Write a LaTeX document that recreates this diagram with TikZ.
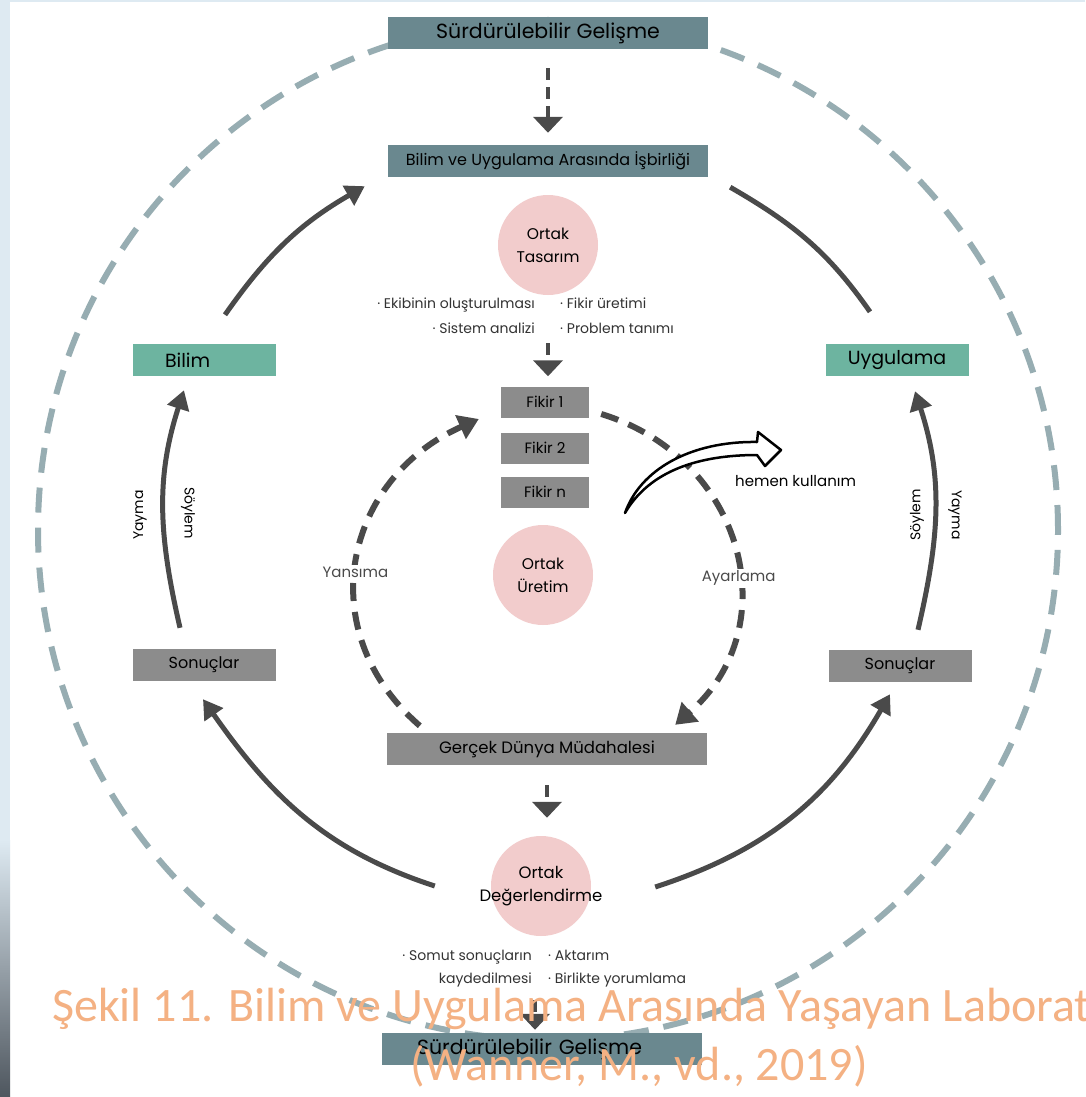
\documentclass[tikz,border=0pt]{standalone}
\usepackage{fontspec}
\setmainfont{Poppins}
\newfontfamily\capfont{Carlito}
\usetikzlibrary{arrows.meta,positioning,calc}

\definecolor{slate}{RGB}{106,136,143}
\definecolor{sage}{RGB}{109,180,160}
\definecolor{stone}{RGB}{140,140,140}
\definecolor{blush}{RGB}{242,204,204}
\definecolor{ink}{RGB}{74,74,74}
\definecolor{ring}{RGB}{151,173,178}
\definecolor{peach}{RGB}{244,177,131}
\definecolor{slidebg}{RGB}{222,234,242}

\tikzset{
  goalbox/.style={fill=slate, minimum width=320pt, minimum height=32pt, inner sep=0pt},
  fieldbox/.style={fill=sage, minimum width=143pt, minimum height=32pt, inner sep=0pt, font=\fontsize{19}{22}\selectfont},
  resultbox/.style={fill=stone, minimum width=143pt, minimum height=32pt, inner sep=0pt, font=\fontsize{16}{19}\selectfont},
  ideabox/.style={fill=stone, minimum width=88pt, minimum height=31pt, inner sep=0pt, font=\fontsize{15}{18}\selectfont},
  phasedot/.style={circle, fill=blush, minimum size=100pt, inner sep=0pt, align=center, font=\fontsize{15.5}{23}\selectfont},
  bulletnote/.style={inner sep=0pt, text=black!80, font=\fontsize{14}{17}\selectfont},
  looplabel/.style={inner sep=2pt, fill=white, font=\fontsize{15}{18}\selectfont},
  sidelabel/.style={inner sep=0pt, font=\fontsize{14}{17}\selectfont},
  flowdash/.style={ink, line width=4pt, dash pattern=on 12pt off 7pt, -{Triangle[length=16pt,width=29pt]}},
  loopdash/.style={ink, line width=6pt, dash pattern=on 18pt off 11pt, -{Triangle[length=20pt,width=25pt]}},
  bigarc/.style={ink, line width=5pt, -{Triangle[length=19pt,width=22pt]}},
  bigline/.style={ink, line width=5pt},
  caption/.style={inner sep=0pt, text=peach, font=\capfont\fontsize{48}{50}\selectfont}
}

\begin{document}
\begin{tikzpicture}[x=1pt,y=1pt]
  \useasboundingbox (0,0) rectangle (1085,-1097);
  % slide background
  \fill[slidebg] (0,0) rectangle (1085,-1097);
  \fill[white] (10,-2) rectangle (1085,-1097);
  \shade[top color=slidebg, bottom color={rgb,255:red,78;green,86;blue,94}] (0,-840) rectangle (10,-1097);

  % outer ring
  \draw[ring, line width=6pt, dash pattern=on 25pt off 15pt] (548,-530) circle (510);

  % boxes
  \node[goalbox, font=\fontsize{20.5}{24}\selectfont] (surdurUst) at (548,-33) {Sürdürülebilir Gelişme};
  \node[goalbox, font=\fontsize{16}{19}\selectfont] (isbirligi) at (548,-161) {Bilim ve Uygulama Arasında İşbirliği};
  \node[fieldbox, text width=78pt, align=left] (bilim) at (204,-360) {Bilim};
  \node[fieldbox] (uygulama) at (897,-360) {Uygulama};
  \node[resultbox] (sonucL)  at (204,-665) {Sonuçlar};
  \node[resultbox] (sonucR)  at (900,-666) {Sonuçlar};
  \node[resultbox, minimum width=320pt, font=\fontsize{16.5}{19}\selectfont] (gercek) at (547,-749) {Gerçek Dünya Müdahalesi};
  \node[goalbox, text width=250pt, align=left, font=\fontsize{20.5}{24}\selectfont] (surdurAlt) at (542,-1049) {Sürdürülebilir Gelişme};

  % phases
  \node[phasedot] (tasarim)       at (548,-245) {Ortak\\Tasarım};
  \node[phasedot] (uretim)        at (543,-575) {Ortak\\Üretim};
  \node[phasedot, label={[align=center, font=\fontsize{16.5}{23}\selectfont]center:Ortak\\Değerlendirme}] (degerlendirme) at (541,-886) {};

  % ideas
  \node[ideabox] (fikir1) at (545,-402) {Fikir 1};
  \node[ideabox] (fikir2) at (545,-448) {Fikir 2};
  \node[ideabox] (fikirN) at (545,-492) {Fikir n};

  % notes
  \node[bulletnote, anchor=base east] (ekip)    at (535,-308) {· Ekibinin oluşturulması};
  \node[bulletnote, anchor=base east] (sistem)  at (535,-333) {· Sistem analizi};
  \node[bulletnote, anchor=base west] (uretimN) at (560,-308) {· Fikir üretimi};
  \node[bulletnote, anchor=base west] (problem) at (560,-333) {· Problem tanımı};
  \node[bulletnote, anchor=base east] (somut)   at (532,-960) {· Somut sonuçların};
  \node[bulletnote, anchor=base east] (kayit)   at (532,-983) {kaydedilmesi};
  \node[bulletnote, anchor=base west] (aktarim) at (548,-960) {· Aktarım};
  \node[bulletnote, anchor=base west] (yorum)   at (548,-983) {· Birlikte yorumlama};

  % side labels
  \node[sidelabel, rotate=90]  (yaymaL)  at (140,-515) {Yayma};
  \node[sidelabel, rotate=-90] (soylemL) at (188,-513) {Söylem};
  \node[sidelabel, rotate=90]  (soylemR) at (917,-515) {Söylem};
  \node[sidelabel, rotate=-90] (yaymaR)  at (955,-515) {Yayma};

  % vertical flow
  \draw[flowdash, shorten <=19pt, shorten >=12pt] (surdurUst.south) -- (isbirligi.north);
  \draw[flowdash, shorten <=48pt, shorten >=10pt] (tasarim.south) -- (tasarim.south |- fikir1.north);
  \draw[flowdash, shorten <=20pt, shorten >=18pt] (gercek.south) -- (gercek.south |- degerlendirme.north);
  \draw[flowdash, shorten <=64pt, shorten >=3pt] ([xshift=-6pt]degerlendirme.south) -- ([xshift=-6pt]degerlendirme.south |- surdurAlt.north);

  % outer cycle
  \draw[bigarc] ([shift={(21,29)}]bilim.north) to[out=55,in=210] ([shift={(-23,-9)}]isbirligi.south west);
  \draw[bigline] ([shift={(22,-10)}]isbirligi.south east) to[out=-30,in=125] ([shift={(-27,32)}]uygulama.north);
  \draw[bigarc] ([shift={(-24,21)}]sonucL.north) to[out=103,in=-108] ([shift={(-20,-14)}]bilim.south);
  \draw[bigarc] ([shift={(18,20)}]sonucR.north) to[out=77,in=-72] ([shift={(18,-15)}]uygulama.south);
  \draw[bigarc] ([xshift=-56pt]degerlendirme.west) to[out=162,in=-55] ([shift={(-1,-18)}]sonucL.south);
  \draw[bigarc] ([shift={(64,-1)}]degerlendirme.east) to[out=18,in=-120] ([shift={(-10,-12)}]sonucR.south);

  % inner loop
  \draw[loopdash] ([shift={(12,-12)}]fikir1.east) to[out=-17,in=41,looseness=1.2]
    node[looplabel, pos=.58] (ayar) {Ayarlama} ([shift={(-32,8)}]gercek.north east);
  \draw[loopdash] ([shift={(33,7)}]gercek.north west) to[out=139,in=204,looseness=1.2]
    node[looplabel, pos=.46] (yansima) {Yansıma} ([shift={(-22,-17)}]fikir1.west);

  % hemen kullanim
  \filldraw[fill=white, draw=black, line width=2.5pt, line join=round]
    (625,-513) .. controls (640,-470) and (690,-441) .. (757,-442)
    -- (758,-432) -- (781,-450) -- (765,-466) -- (757,-455)
    .. controls (700,-455) and (650,-470) .. cycle;
  \node[sidelabel, anchor=base west, font=\fontsize{15}{18}\selectfont] (hemen) at (735,-486) {hemen kullanım};

  % caption
  \node[caption, anchor=base west] (sekil) at (52,-1021) {Şekil 11. Bilim ve Uygulama Arasında Yaşayan Laborat};
  \node[caption, anchor=base] (kaynak) at (639,-1080) {(Wanner, M., vd., 2019)};
\end{tikzpicture}
\end{document}
